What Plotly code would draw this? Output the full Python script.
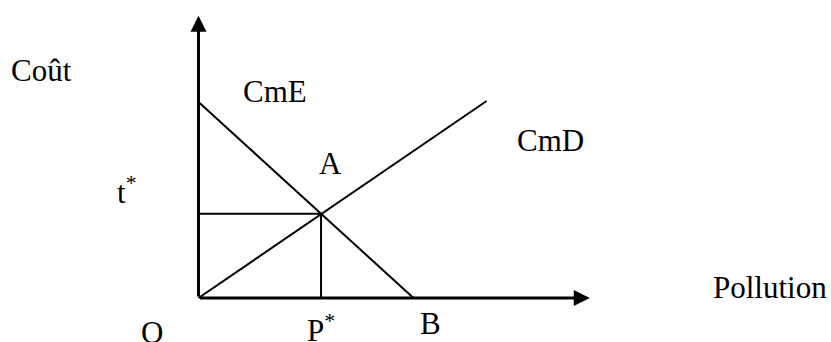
import plotly.graph_objects as go

# Schéma: coût marginal d'épuration (CmE) et coût marginal des dommages (CmD)
W, H = 831, 342

cme_x = [0, 10]
cme_y = [10, 0]
cmd_x = [0, 13.4]
cmd_y = [0, 10.05]
p_star = 5.7
t_star = 4.3
x_axis_end = 18.2
y_axis_end = 14.4

# étiquettes: (texte, x px, y px, ancrage)
labels = [
    ("Coût", 41.7, 70.7, "center"),
    ("CmE", 274.5, 91.7, "center"),
    ("CmD", 550, 140, "center"),
    ("A", 330.5, 163.3, "center"),
    ("t<sup>*</sup>", 115, 190, "left"),
    ("P<sup>*</sup>", 305, 328, "left"),
    ("B", 430.5, 323, "center"),
    ("O", 152, 332, "center"),
    ("Pollution", 769.5, 287, "center"),
]

FONT = "Liberation Serif, Times New Roman, serif"
BLACK = "#000000"

fig = go.Figure()

fig.add_trace(go.Scatter(x=cme_x, y=cme_y, mode="lines",
                         line=dict(color=BLACK, width=2), hoverinfo="skip"))
fig.add_trace(go.Scatter(x=cmd_x, y=cmd_y, mode="lines",
                         line=dict(color=BLACK, width=2), hoverinfo="skip"))
# traits vers t* et P*
fig.add_trace(go.Scatter(x=[0, p_star, p_star], y=[t_star, t_star, 0], mode="lines",
                         line=dict(color=BLACK, width=2), hoverinfo="skip"))

# axes avec flèches
for x_end, y_end in [(x_axis_end, 0), (0, y_axis_end)]:
    fig.add_annotation(
        x=x_end, y=y_end, ax=0, ay=0, xref="x", yref="y", axref="x", ayref="y",
        text="", showarrow=True, arrowhead=2, arrowsize=1.07, arrowwidth=3,
        arrowcolor=BLACK, standoff=0, startstandoff=0,
    )

for txt, px, py, anchor in labels:
    fig.add_annotation(
        x=px / W, y=1 - py / H, xref="paper", yref="paper",
        text=txt, showarrow=False, xanchor=anchor, yanchor="middle",
        font=dict(family=FONT, size=31, color=BLACK),
    )

fig.update_layout(
    width=W, height=H,
    margin=dict(l=0, r=0, t=0, b=0),
    plot_bgcolor="white", paper_bgcolor="white",
    showlegend=False,
)
fig.update_xaxes(range=[-198.5 / 21.5, (W - 198.5) / 21.5], visible=False, fixedrange=True)
fig.update_yaxes(range=[-(H - 298) / 19.6, 298 / 19.6], visible=False, fixedrange=True)

# la page par défaut a une marge de 8px sur le body
fig.write_html("out.html", config={"displayModeBar": False},
               post_script="document.body.style.margin='0px';")
